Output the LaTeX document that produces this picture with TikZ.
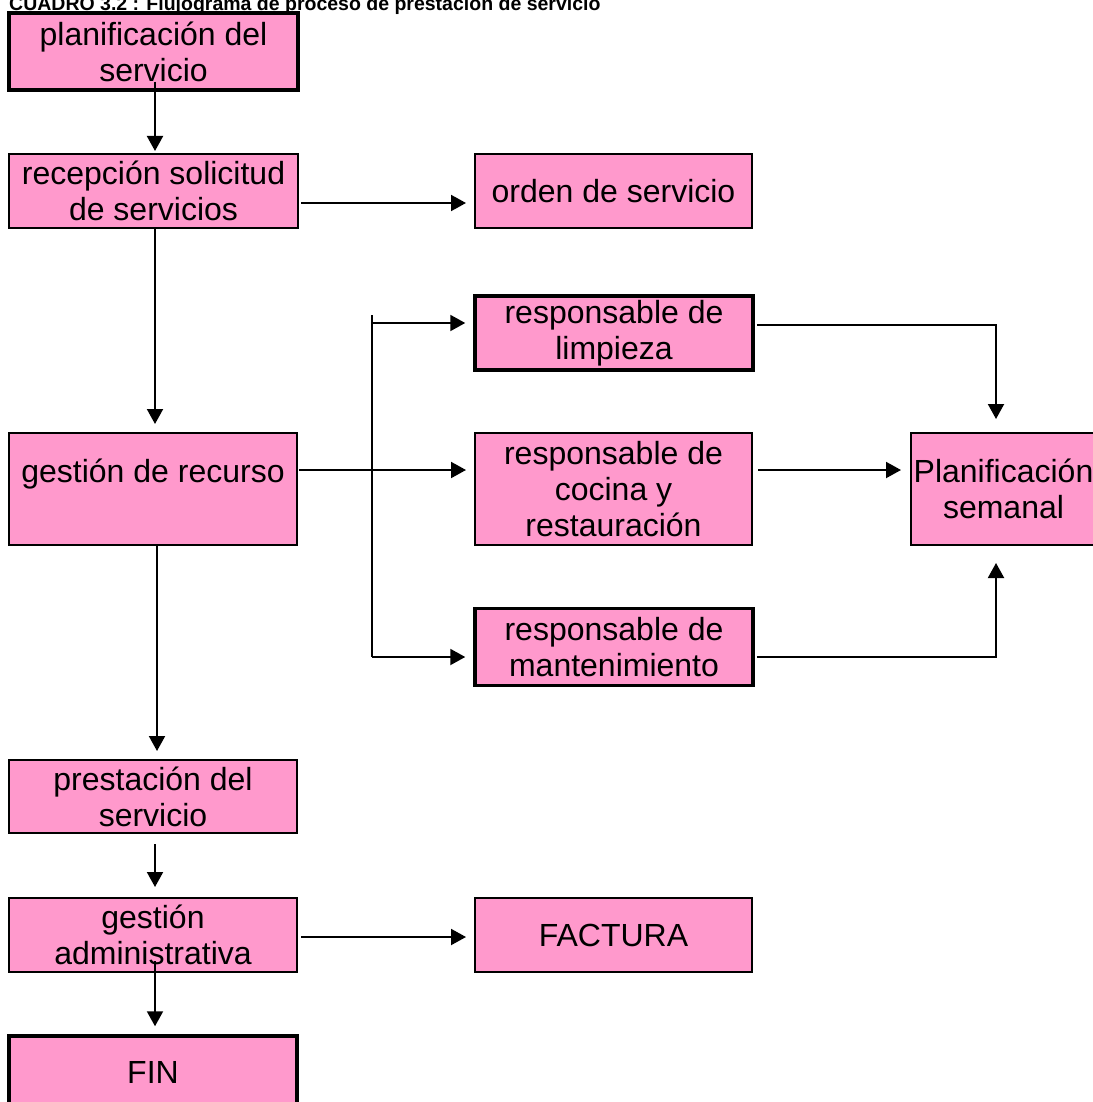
\documentclass[tikz,border=0pt]{standalone}
\usepackage{fontspec}
\setmainfont{Liberation Sans}
\usetikzlibrary{arrows.meta,calc}
\definecolor{boxpink}{HTML}{FF99CC}
\begin{document}
\begin{tikzpicture}[x=1pt,y=-1pt,
  box/.style={draw=black, fill=boxpink, line width=2pt, inner sep=0pt, align=center,
              font=\fontsize{32}{36}\selectfont},
  thickbox/.style={box, line width=3.5pt},
  txt/.style={inner sep=0pt, align=center, font=\fontsize{32}{36}\selectfont},
  ln/.style={line width=2pt},
  arr/.style={line width=2pt, -{Triangle[length=15pt,width=16pt]}}]
\useasboundingbox (0,0) rectangle (1092,1102);

\node[anchor=base west, inner sep=0pt, font=\bfseries\fontsize{19.5}{22}\selectfont] (title) at (9,11)
  {CUADRO 3.2 : Flujograma de proceso de prestación de servicio};

\node[thickbox, minimum width=289pt, minimum height=77pt] (planif) at (153.5,51.5) {planificación del\\servicio};
\node[box, minimum width=289pt, minimum height=74pt] (recep) at (153.5,191) {recepción solicitud\\de servicios};
\node[box, minimum width=277pt, minimum height=74pt] (orden) at (613.5,191) {orden de servicio};
\node[thickbox, minimum width=278pt, minimum height=74pt] (limp) at (614,333) {responsable de\\limpieza};
\node[box, minimum width=288pt, minimum height=112pt] (gest) at (153,489) {};
\node[txt, anchor=base] (gestT) at (153,482) {gestión de recurso};
\node[box, minimum width=277pt, minimum height=112pt] (cocina) at (613.5,489) {responsable de\\cocina y\\restauración};
\node[box, minimum width=185pt, minimum height=112pt] (psem) at (1003.5,489) {Planificación\\semanal};
\node[thickbox, minimum width=278pt, minimum height=77pt] (mant) at (614,647) {responsable de\\mantenimiento};
\node[box, minimum width=288pt, minimum height=73pt] (prest) at (153,796.5) {prestación del\\servicio};
\node[box, minimum width=288pt, minimum height=74pt] (admin) at (153,935) {gestión\\administrativa};
\node[box, minimum width=277pt, minimum height=74pt] (factura) at (613.5,935) {FACTURA};
\node[thickbox, minimum width=288pt, minimum height=72pt] (fin) at (153,1072) {FIN};

% connectors
\coordinate (p1) at ($(planif.south)+(1.5,-10)$);
\draw[arr, shorten >=2pt] (p1) -- (p1 |- recep.north);
\draw[arr, shorten >=8pt] ($(recep.east)+(2,12)$) -- ($(orden.west)+(0,12)$);
\draw[arr, shorten >=8pt] ($(recep.south)+(1.5,0)$) -- ($(gest.north)+(2,0)$);
\draw[arr, shorten >=8pt] ($(gest.east)+(1,-19)$) -- ($(cocina.west)+(0,-19)$);

\coordinate (brT) at (372,315);
\coordinate (brL) at (372,323);
\coordinate (brB) at (372,657);
\draw[ln] (brT) -- (brB);
\draw[arr, shorten >=8pt] (brL) -- (brL -| limp.west);
\draw[arr, shorten >=8pt] (brB) -- (brB -| mant.west);

\coordinate (lc) at (996,325);
\draw[arr, shorten >=13pt] ([xshift=2pt]lc -| limp.east) -- (lc) -- (lc |- psem.north);
\draw[arr, shorten >=9pt] ($(cocina.east)+(5,-19)$) -- ($(psem.west)+(0,-19)$);
\coordinate (mc) at (996,657);
\draw[arr, shorten >=17pt] ([xshift=2pt]mc -| mant.east) -- (mc) -- (mc |- psem.south);

\draw[arr, shorten >=8pt] ($(gest.south)+(4,0)$) -- ($(prest.north)+(4,0)$);
\draw[arr, shorten >=10pt] ($(prest.south)+(2,10)$) -- ($(admin.north)+(2,0)$);
\draw[arr, shorten >=8pt] ($(admin.east)+(3,2)$) -- ($(factura.west)+(0,2)$);
\draw[arr, shorten >=8pt] ($(admin.south)+(2,-12)$) -- ($(fin.north)+(2,0)$);
\end{tikzpicture}
\end{document}
